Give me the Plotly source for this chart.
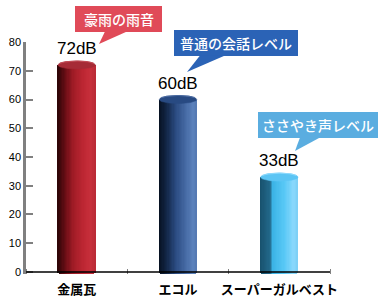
import numpy as np
import plotly.graph_objects as go

categories = ["金属瓦", "エコル", "スーパーガルベスト"]
values = [72, 60, 33]
value_labels = ["72dB", "60dB", "33dB"]
callouts = ["豪雨の雨音", "普通の会話レベル", "ささやき声レベル"]
callout_colors = ["#e04a58", "#2b63b6", "#5aade0"]
y_ticks = [0, 10, 20, 30, 40, 50, 60, 70, 80]

# colour stops across the cylinder (left -> right)
body_stops = [
    [(-1.0, "#2a0406"), (-0.55, "#6e0e16"), (-0.15, "#a01c26"), (0.35, "#bc2632"), (0.8, "#c8303c"), (1.0, "#b82a36")],
    [(-1.0, "#06101f"), (-0.55, "#14284a"), (-0.1, "#2a4a80"), (0.4, "#4468a2"), (0.85, "#5c82bc"), (1.0, "#5478b0")],
    [(-1.0, "#17506c"), (-0.45, "#236a8c"), (-0.3, "#3cb4e6"), (0.3, "#58c8f6"), (0.8, "#8ad8fc"), (1.0, "#7ccff5")],
]
top_colors = ["#a62b36", "#284a82", "#5cc5f4"]
rim_colors = ["#c04a54", "#4a6aa0", "#8ad8fc"]

H = 305
L, R, T, B = 26, 58, 42, 31
YMIN, YMAX = -0.7, 80
plot_w = 388 - L - R
plot_h = H - T - B


def hex2rgb(h):
    h = h.lstrip("#")
    return np.array([int(h[i:i + 2], 16) for i in (0, 2, 4)], dtype=float)


def interp(stops, u):
    for (u0, c0), (u1, c1) in zip(stops[:-1], stops[1:]):
        if u0 <= u <= u1:
            t = (u - u0) / (u1 - u0) if u1 > u0 else 0
            c = hex2rgb(c0) * (1 - t) + hex2rgb(c1) * t
            return "rgb(%d,%d,%d)" % tuple(c.round())
    return stops[-1][1]


r = 0.185          # half bar width (x units)
e = 1.4            # ellipse half height (y units)
N = 30

fig = go.Figure()
xs = np.arange(len(categories))
vals = np.array(values, dtype=float)
for k in range(N):
    u = -1 + (k + 0.5) * 2 / N
    base = -e * np.sqrt(max(0.0, 1 - u * u)) * np.ones_like(vals)
    fig.add_trace(go.Bar(
        x=xs + u * r, y=vals - base, base=base,
        width=2 * r / N * 1.25,
        marker=dict(color=[interp(body_stops[i], u) for i in range(len(vals))], line=dict(width=0)),
        hoverinfo="skip", showlegend=False,
    ))

t = np.linspace(0, 2 * np.pi, 80)
for i, v in enumerate(values):
    fig.add_trace(go.Scatter(
        x=i + r * np.cos(t), y=v + e * np.sin(t), mode="lines", fill="toself",
        fillcolor=top_colors[i], line=dict(color=top_colors[i], width=0.5),
        hoverinfo="skip", showlegend=False,
    ))
    tb = np.linspace(0.15 * np.pi, 0.85 * np.pi, 30)
    fig.add_trace(go.Scatter(
        x=i + r * np.cos(tb), y=v + e * np.sin(tb), mode="lines",
        line=dict(color=rim_colors[i], width=1.2),
        hoverinfo="skip", showlegend=False,
    ))


def px(xp):
    return (xp - L) / plot_w


def py(yp):
    return (H - B - yp) / plot_h


# callout boxes (pixel geometry)
boxes = [
    dict(x0=75, x1=162, y0=6, y1=32, b0=105, b1=127, tx=99, ty=44),
    dict(x0=174, x1=298, y0=30, y1=56, b0=200, b1=225, tx=187, ty=72),
    dict(x0=258, x1=378, y0=112, y1=138, b0=300, b1=320, tx=295, ty=151),
]
shapes = []
annotations = []
for i, bx in enumerate(boxes):
    c = callout_colors[i]
    shapes.append(dict(type="rect", xref="paper", yref="paper", x0=px(bx["x0"]), x1=px(bx["x1"]),
                       y0=py(bx["y1"]), y1=py(bx["y0"]), fillcolor=c, line=dict(width=0), layer="above"))
    path = "M %f,%f L %f,%f L %f,%f Z" % (px(bx["b0"]), py(bx["y1"] - 0.5), px(bx["b1"]), py(bx["y1"] - 0.5),
                                         px(bx["tx"]), py(bx["ty"]))
    shapes.append(dict(type="path", xref="paper", yref="paper", path=path, fillcolor=c,
                       line=dict(width=0), layer="above"))
    annotations.append(dict(x=px((bx["x0"] + bx["x1"]) / 2), y=py((bx["y0"] + bx["y1"]) / 2),
                            xref="paper", yref="paper", text=callouts[i], showarrow=False,
                            font=dict(family="Noto Sans CJK JP", size=14, color="white", weight=500),
                            xanchor="center", yanchor="middle"))

for i, v in enumerate(values):
    annotations.append(dict(x=i, y=v, xref="x", yref="y", text=value_labels[i], showarrow=False,
                            yanchor="bottom", yshift=5,
                            font=dict(family="Liberation Sans, Arial", size=17, color="black")))

# x axis baseline
shapes.append(dict(type="line", xref="paper", yref="y", x0=0, x1=1, y0=0, y1=0,
                   line=dict(color="black", width=1.5), layer="above"))

fig.update_layout(
    width=388, height=H,
    margin=dict(l=L, r=R, t=T, b=B, autoexpand=False),
    paper_bgcolor="white", plot_bgcolor="white",
    barmode="overlay", bargap=0,
    shapes=shapes, annotations=annotations,
    xaxis=dict(range=[-0.5, 2.5], tickvals=list(xs), ticktext=categories, ticks="",
               showgrid=False, zeroline=False, showline=False, fixedrange=True,
               ticklabelstandoff=6, automargin=False,
               tickfont=dict(family="Noto Sans CJK JP", size=13, color="black", weight="bold"),
               minor=dict(tick0=0.5, dtick=1, ticks="inside", ticklen=5, tickcolor="#808080",
                          tickwidth=1, showgrid=False)),
    yaxis=dict(range=[YMIN, YMAX], tickvals=y_ticks, ticks="inside", ticklen=7, tickwidth=2,
               tickcolor="#808080", showline=True, linecolor="#808080", linewidth=2.5,
               showgrid=False, zeroline=False, fixedrange=True, automargin=False,
               tickfont=dict(family="Liberation Sans, Arial", size=11, color="black")),
)
fig.write_html("out.html")
